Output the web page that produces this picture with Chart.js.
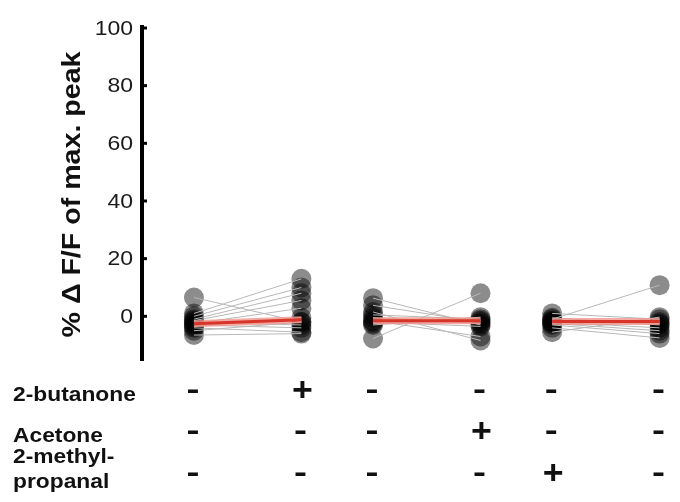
<!DOCTYPE html>
<html><head><meta charset="utf-8">
<script src="https://cdn.jsdelivr.net/npm/chart.js@4"></script>
<style>html,body{margin:0;padding:0;background:#fff}</style></head>
<body><canvas id="c" width="680" height="502"></canvas>
<script>
// ---- data ----
const conditions = ['control 1', '2-butanone', 'control 2', 'Acetone', 'control 3', '2-methyl-propanal'];
const yTicks = [0, 20, 40, 60, 80, 100];
const yTitle = '% \u0394 F/F of max. peak';
const rowLabels = [['2-butanone'], ['Acetone'], ['2-methyl-', 'propanal']];
const rowMarks = [
  ['-', '+', '-', '-', '-', '-'],
  ['-', '-', '-', '+', '-', '-'],
  ['-', '-', '-', '-', '+', '-']
];
const butanoneBefore = [6.5, 1.0, 0.0, -1.0, -1.5, -2.0, -2.5, -3.0, -3.5, -4.0, -5.0, -6.5];
const butanoneAfter  = [-2.0, 13.0, 10.0, 8.0, 5.5, -3.0, 2.8, -4.0, -0.5, -5.5, -2.0, -6.0];
const acetoneBefore  = [6.3, 3.8, 1.5, 0.5, -0.5, -1.5, -2.0, -2.5, -3.0, -7.7];
const acetoneAfter   = [-3.0, -2.0, -8.4, -1.0, -2.5, -7.0, -3.5, -1.5, -0.3, 8.0];
const methylBefore   = [1.0, -0.5, -1.0, -1.5, -2.0, -2.0, -2.5, -3.0, -4.0, -5.5];
const methylAfter    = [-1.0, -3.0, 10.8, -2.0, -4.0, -2.5, -5.0, -6.0, -7.5, -0.3];
const meanBefore = [-2.6, -1.5, -1.8];
const meanAfter  = [-1.2, -1.5, -1.8];

// ---- layout (axis units) ----
const slotX = [0, 3, 5, 8, 10, 13];
const pairs = [[butanoneBefore, butanoneAfter], [acetoneBefore, acetoneAfter], [methylBefore, methylAfter]];

const meanSets = [], haloSets = [], lineSets = [], pointSets = [];
pairs.forEach((p, k) => {
  const L = slotX[2 * k], R = slotX[2 * k + 1];
  const md = [{x: L, y: meanBefore[k]}, {x: R, y: meanAfter[k]}];
  meanSets.push({ type: 'line', data: md, borderColor: '#d8342a', borderWidth: 3, pointRadius: 0, clip: false });
  haloSets.push({ type: 'line', data: md, borderColor: 'rgba(240,150,140,0.8)', borderWidth: 7, pointRadius: 0, clip: false });
  p[0].forEach((v, i) => {
    lineSets.push({
      type: 'line', data: [{x: L, y: v}, {x: R, y: p[1][i]}],
      borderColor: '#b8b8b8', borderWidth: 1, pointRadius: 0, clip: false
    });
  });
  pointSets.push({
    type: 'scatter',
    data: p[0].map(v => ({x: L, y: v})).concat(p[1].map(v => ({x: R, y: v}))),
    backgroundColor: 'rgba(0,0,0,0.45)', borderWidth: 0, pointRadius: 10, clip: false
  });
});

function sText(ctx, text, x, y, sx, align) {
  ctx.save(); ctx.translate(x, y); ctx.scale(sx, 1);
  ctx.textAlign = align; ctx.fillText(text, 0, 0); ctx.restore();
}

const decor = {
  id: 'decor',
  afterDraw(chart) {
    const ctx = chart.ctx, xs = chart.scales.x, ys = chart.scales.y;
    const ax = chart.chartArea.left;
    ctx.save();
    ctx.fillStyle = '#000'; ctx.strokeStyle = '#000';
    ctx.lineWidth = 4;
    ctx.beginPath(); ctx.moveTo(ax, ys.getPixelForValue(100) - 3); ctx.lineTo(ax, chart.chartArea.bottom); ctx.stroke();
    ctx.lineWidth = 3;
    ctx.font = '20px "Liberation Sans", Arial, sans-serif';
    ctx.fillStyle = '#1a1a1a';
    ctx.textBaseline = 'middle';
    yTicks.forEach(t => {
      const py = ys.getPixelForValue(t);
      ctx.beginPath(); ctx.moveTo(ax, py); ctx.lineTo(ax + 5, py); ctx.stroke();
      sText(ctx, String(t), ax - 9, py + 1, 1.15, 'right');
    });
    ctx.font = 'bold 26px "Liberation Sans", Arial, sans-serif';
    ctx.fillStyle = '#111';
    ctx.save();
    ctx.translate(73, (ys.getPixelForValue(100) + chart.chartArea.bottom) / 2);
    ctx.rotate(-Math.PI / 2);
    const w = ctx.measureText(yTitle).width;
    ctx.scale(286 / w, 1);
    ctx.textAlign = 'center'; ctx.textBaseline = 'middle';
    ctx.fillText(yTitle, 0, 0);
    ctx.restore();
    const rowY = [390, 431, 473];
    ctx.textBaseline = 'alphabetic';
    ctx.font = 'bold 20px "Liberation Sans", Arial, sans-serif';
    rowLabels.forEach((lines, r) => {
      if (lines.length === 1) sText(ctx, lines[0], 13, rowY[r] + 11, 1.14, 'left');
      else { sText(ctx, lines[0], 13, rowY[r] - 10, 1.14, 'left'); sText(ctx, lines[1], 13, rowY[r] + 15, 1.14, 'left'); }
    });
    ctx.textBaseline = 'middle';
    rowMarks.forEach((marks, r) => {
      marks.forEach((m, i) => {
        const px = xs.getPixelForValue(slotX[i]);
        if (m === '+') { ctx.font = 'bold 34px "Liberation Sans", Arial, sans-serif'; sText(ctx, m, px + 1, rowY[r] + 2, 1.05, 'center'); }
        else { ctx.font = 'bold 30px "Liberation Sans", Arial, sans-serif'; sText(ctx, m, px - 1, rowY[r] + 1, 1.3, 'center'); }
      });
    });
    ctx.restore();
  }
};

new Chart(document.getElementById('c'), {
  data: { datasets: meanSets.concat(haloSets, lineSets, pointSets) },
  options: {
    responsive: false, animation: false, devicePixelRatio: 1,
    layout: { padding: { left: 142, right: 0, top: 28, bottom: 141 } },
    plugins: { legend: { display: false }, tooltip: { enabled: false } },
    scales: {
      x: { type: 'linear', display: false, min: -1.45, max: 13.29 },
      y: { type: 'linear', display: false, min: -15.5, max: 100 }
    }
  },
  plugins: [decor]
});
</script>
</body></html>
